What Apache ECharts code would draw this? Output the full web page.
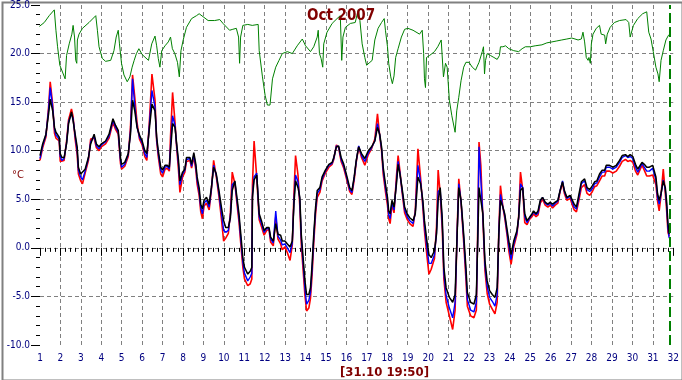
<!DOCTYPE html>
<html><head><meta charset="utf-8">
<script src="https://cdn.jsdelivr.net/npm/echarts@6/dist/echarts.min.js"></script>
<style>html,body{margin:0;padding:0;background:#fff}#c{width:682px;height:380px}</style>
</head><body><div id="c"></div>
<script>
// time in days (1 = start of 1 Oct) for outdoor sensors
const times = [1.00,1.13,1.29,1.42,1.50,1.62,1.71,1.78,1.94,1.99,2.07,2.18,2.30,2.40,2.54,2.62,2.72,2.82,2.88,2.99,3.08,3.21,3.37,3.48,3.65,3.76,3.89,4.00,4.21,4.38,4.57,4.70,4.83,4.94,4.99,5.15,5.32,5.43,5.53,5.64,5.75,5.87,6.00,6.13,6.23,6.36,6.48,6.63,6.71,6.79,6.91,7.00,7.12,7.23,7.33,7.39,7.49,7.61,7.69,7.78,7.85,7.98,8.09,8.17,8.34,8.42,8.53,8.63,8.69,8.79,8.87,8.95,9.03,9.15,9.28,9.39,9.50,9.63,9.76,9.88,9.99,10.09,10.22,10.32,10.41,10.54,10.64,10.74,10.83,10.93,11.01,11.17,11.29,11.37,11.40,11.48,11.61,11.73,11.84,11.97,12.10,12.21,12.29,12.42,12.54,12.65,12.78,12.86,12.99,13.11,13.24,13.35,13.43,13.51,13.63,13.72,13.79,13.88,13.97,14.05,14.16,14.24,14.32,14.40,14.49,14.57,14.70,14.81,14.97,15.14,15.30,15.38,15.51,15.62,15.74,15.87,16.03,16.16,16.27,16.38,16.48,16.60,16.74,16.90,17.07,17.23,17.39,17.52,17.63,17.72,17.80,17.91,18.01,18.07,18.14,18.23,18.33,18.45,18.53,18.62,18.72,18.85,18.98,19.10,19.26,19.37,19.50,19.63,19.74,19.82,19.94,20.04,20.15,20.31,20.41,20.49,20.59,20.69,20.77,20.88,21.04,21.20,21.32,21.42,21.50,21.61,21.74,21.85,21.92,22.08,22.24,22.36,22.42,22.49,22.58,22.68,22.78,22.89,23.01,23.14,23.27,23.38,23.46,23.54,23.66,23.75,23.87,23.95,24.06,24.19,24.35,24.43,24.52,24.63,24.73,24.84,24.95,25.08,25.16,25.28,25.38,25.49,25.60,25.73,25.86,25.98,26.09,26.22,26.35,26.46,26.58,26.67,26.79,26.95,27.06,27.15,27.26,27.39,27.50,27.66,27.78,27.91,28.04,28.15,28.26,28.39,28.52,28.64,28.72,28.88,29.04,29.21,29.37,29.50,29.66,29.77,29.89,30.02,30.15,30.26,30.34,30.47,30.58,30.70,30.83,30.99,31.07,31.15,31.23,31.31,31.40,31.51,31.61,31.67,31.74,31.80];
const black = [9.5,10.7,11.7,13.8,15.3,14.1,12.4,11.9,11.4,9.7,9.3,9.3,10.7,12.8,14.0,13.1,11.7,10.4,8.3,7.6,7.4,8.1,9.3,10.7,11.7,10.7,10.4,10.7,11.0,11.7,13.3,12.6,12.1,9.3,8.6,8.8,9.7,11.7,15.2,14.1,12.4,11.6,11.0,10.0,9.7,12.4,14.8,14.1,11.4,10.0,8.3,8.0,8.5,8.5,8.3,10.0,12.8,12.4,10.7,9.0,6.9,7.8,8.1,9.3,9.3,8.6,9.8,8.6,7.3,6.2,4.5,4.0,4.9,5.2,4.5,6.2,8.3,7.6,5.9,4.2,2.8,2.1,2.1,3.1,5.9,6.9,5.2,3.5,1.4,-1.0,-2.0,-2.7,-2.4,-2.0,5.2,7.0,7.5,3.5,2.8,1.8,2.1,2.1,1.1,0.7,2.5,1.4,1.3,0.7,0.7,0.4,0.1,0.7,4.5,6.9,6.2,5.2,1.4,-1.0,-3.4,-4.8,-4.8,-4.1,-1.7,1.4,4.2,5.9,6.2,7.3,8.0,8.6,8.8,9.3,10.4,10.5,9.3,8.6,7.3,6.2,5.9,7.3,9.0,10.4,9.7,9.2,10.0,10.4,11.0,12.4,11.7,10.4,8.3,6.6,5.2,3.8,3.5,4.9,4.2,6.6,8.6,7.6,6.2,4.2,3.5,3.1,2.8,3.5,7.3,6.6,4.9,2.8,0.7,-0.7,-1.0,-0.3,1.4,4.9,6.2,3.1,-2.0,-4.1,-5.1,-5.6,-4.8,1.4,6.2,4.9,1.4,-2.0,-4.6,-5.6,-5.8,-4.8,0.1,6.2,6.2,3.5,-1.3,-3.4,-4.4,-4.8,-5.1,-4.1,1.4,4.9,4.2,3.5,1.8,0.7,-0.7,0.7,1.8,3.1,5.9,6.2,3.5,2.8,3.1,3.5,3.8,3.5,3.8,4.9,5.2,4.7,4.5,4.7,4.5,4.7,4.9,5.9,6.8,5.9,5.2,5.4,4.9,4.5,4.2,5.6,6.8,7.1,6.2,6.0,6.4,6.8,6.9,7.6,8.0,8.0,8.5,8.5,8.3,8.5,9.0,9.5,9.6,9.4,9.6,9.4,8.6,8.1,8.3,8.8,8.6,8.3,8.3,8.5,8.6,7.3,5.6,4.9,5.6,6.9,6.2,4.9,2.5,1.4];
const blue = [9.2,10.5,11.6,14.2,16.5,14.5,12.2,11.6,11.2,9.4,9.0,9.2,10.8,13.0,13.8,13.3,11.5,10.0,8.0,7.3,7.0,7.9,9.2,10.9,11.5,10.5,10.2,10.6,10.9,11.5,13.1,12.4,11.9,9.0,8.3,8.6,9.6,12.0,17.4,14.6,12.5,11.4,10.8,9.7,9.3,12.8,16.2,14.5,11.2,9.7,8.0,7.7,8.3,8.4,8.1,10.5,13.6,12.6,10.5,8.6,6.5,7.6,8.0,9.1,9.2,8.4,9.6,8.3,7.0,5.8,4.1,3.5,4.6,4.9,4.2,6.1,8.5,7.5,5.6,3.6,1.8,1.6,1.8,3.3,6.5,6.8,4.9,3.1,0.9,-1.5,-2.6,-3.4,-3.0,-2.6,5.5,7.3,7.7,3.2,2.5,1.6,2.0,2.0,0.9,0.5,3.8,1.2,0.8,0.3,0.4,0.0,-0.5,0.5,4.8,7.5,6.8,4.8,1.0,-1.6,-4.2,-5.8,-5.4,-4.6,-2.2,1.0,3.9,5.6,6.0,7.1,7.9,8.5,8.7,9.2,10.5,10.4,9.1,8.4,7.1,6.0,5.7,7.2,8.9,10.5,9.5,8.9,9.8,10.3,11.0,12.8,11.6,10.2,8.0,6.2,4.8,3.4,3.0,4.7,3.9,6.9,8.9,7.7,6.0,3.9,3.2,2.8,2.5,3.6,8.5,6.8,4.6,2.3,0.0,-1.6,-1.6,-0.7,1.6,5.8,6.0,2.6,-2.6,-4.9,-6.2,-7.2,-5.6,1.5,6.6,4.8,1.0,-2.6,-5.3,-6.4,-6.6,-5.6,0.4,10.4,7.0,3.3,-1.8,-4.0,-5.1,-5.5,-6.0,-4.8,1.5,5.5,4.2,3.3,1.5,0.2,-1.2,0.4,1.6,3.1,6.6,6.2,3.2,2.6,3.0,3.4,3.7,3.4,3.6,4.8,5.2,4.6,4.4,4.6,4.3,4.6,4.8,5.9,6.9,5.8,5.1,5.3,4.7,4.2,4.0,5.3,6.6,6.9,6.0,5.8,6.1,6.6,6.7,7.3,7.8,7.8,8.3,8.3,8.1,8.3,8.8,9.3,9.5,9.3,9.4,9.2,8.3,7.8,8.0,8.7,8.3,7.9,7.9,8.2,8.4,7.0,5.2,4.5,5.5,7.0,6.0,4.5,2.0,1.0];
const red = [9.0,10.3,11.4,14.5,17.1,14.8,11.8,11.3,11.0,8.9,8.8,9.0,11.0,13.2,14.3,13.5,11.2,9.6,7.6,6.9,6.6,7.7,9.0,11.2,11.3,10.3,10.0,10.4,10.7,11.3,12.9,12.2,11.7,8.7,8.1,8.4,9.4,12.5,17.8,15.5,12.9,11.2,10.6,9.4,9.0,13.2,17.9,15.2,11.0,9.4,7.6,7.3,8.1,8.2,7.9,11.5,16.0,12.9,10.3,8.0,5.7,7.3,7.8,8.9,9.0,8.2,9.4,8.0,6.6,5.4,3.7,3.0,4.3,4.6,3.9,6.0,9.0,7.3,5.3,3.0,0.7,1.0,1.5,3.6,7.8,6.6,4.6,2.7,0.4,-2.0,-3.2,-3.9,-3.7,-3.2,6.5,11.0,7.2,2.9,2.2,1.3,1.8,1.9,0.6,0.2,3.2,0.9,0.4,-0.2,0.1,-0.5,-1.3,0.3,5.5,9.5,7.5,4.2,0.4,-2.3,-4.9,-6.5,-6.2,-5.2,-2.8,0.5,3.5,5.2,5.7,6.9,7.7,8.3,8.6,9.1,10.6,10.3,8.9,8.2,6.9,5.8,5.5,7.0,8.8,10.4,9.3,8.5,9.6,10.2,11.2,13.8,11.5,10.0,7.6,5.8,4.4,3.0,2.5,4.5,3.6,7.4,9.5,7.9,5.8,3.6,2.9,2.5,2.2,3.8,10.2,7.2,4.2,1.8,-0.8,-2.7,-2.2,-1.1,2.2,8.0,5.6,2.0,-3.2,-5.6,-7.0,-8.4,-6.4,1.8,7.1,4.7,0.6,-3.2,-6.0,-7.0,-7.2,-6.4,1.0,10.9,8.5,3.0,-2.3,-4.7,-5.8,-6.3,-6.8,-5.6,1.8,6.4,4.2,3.1,1.2,-0.3,-1.7,0.1,1.4,3.2,7.8,6.0,2.6,2.4,2.9,3.2,3.5,3.2,3.4,4.6,5.0,4.4,4.2,4.4,4.1,4.4,4.6,5.8,6.7,5.6,4.9,5.1,4.4,3.9,3.7,5.0,6.2,6.5,5.6,5.4,5.8,6.3,6.4,6.9,7.4,7.4,7.9,7.9,7.7,7.9,8.4,8.9,9.1,8.9,9.0,8.8,7.9,7.5,7.7,8.5,8.0,7.4,7.4,7.5,7.6,6.5,4.8,3.8,5.4,8.1,5.6,4.0,1.6,1.2];
// indoor sensor
const gTimes = [0.97,1.21,1.45,1.70,1.78,1.86,1.97,2.10,2.23,2.30,2.43,2.56,2.62,2.69,2.75,2.80,2.83,2.91,3.08,3.40,3.73,3.81,3.89,4.05,4.21,4.46,4.62,4.73,4.83,4.89,4.99,5.11,5.27,5.40,5.51,5.61,5.72,5.84,5.92,6.00,6.05,6.31,6.47,6.63,6.71,6.79,6.87,6.96,7.12,7.28,7.39,7.48,7.60,7.73,7.82,7.90,8.01,8.17,8.42,8.66,8.79,8.98,9.23,9.55,9.80,9.96,10.28,10.44,10.61,10.72,10.77,10.82,10.93,11.17,11.39,11.68,11.73,11.89,12.02,12.13,12.26,12.38,12.54,12.70,12.86,13.11,13.35,13.59,13.84,14.00,14.24,14.40,14.57,14.62,14.68,14.76,14.84,14.89,15.05,15.30,15.54,15.70,15.77,15.83,15.95,16.19,16.43,16.58,16.66,16.77,16.90,16.99,17.15,17.26,17.39,17.55,17.72,17.85,17.91,18.01,18.07,18.17,18.25,18.33,18.41,18.53,18.69,18.85,19.01,19.26,19.58,19.66,19.71,19.78,19.82,19.87,19.92,20.07,20.31,20.47,20.64,20.69,20.75,20.80,20.85,20.93,21.04,21.16,21.32,21.40,21.50,21.61,21.74,21.85,22.00,22.16,22.32,22.49,22.65,22.71,22.76,22.81,22.89,23.05,23.22,23.38,23.49,23.54,23.66,23.79,23.95,24.19,24.43,24.60,24.76,25.00,25.24,25.57,25.81,26.06,26.30,26.54,26.79,27.03,27.19,27.34,27.50,27.58,27.66,27.74,27.83,27.87,27.94,27.99,28.07,28.23,28.39,28.47,28.56,28.64,28.69,28.77,28.91,29.12,29.37,29.69,29.82,29.89,29.95,30.05,30.26,30.50,30.70,30.80,30.91,31.02,31.15,31.25,31.31,31.40,31.51,31.64,31.77,31.83];
const green = [22.8,23.2,23.9,24.5,22.4,20.7,18.8,18.1,17.4,19.8,21.0,22.0,22.9,21.7,19.3,19.0,21.4,22.0,22.6,23.2,23.9,22.4,20.7,19.5,19.2,19.3,20.3,21.7,22.4,21.0,19.0,17.8,17.1,17.6,18.6,19.3,20.0,20.5,20.3,19.9,20.0,19.3,21.0,21.8,20.8,19.5,18.6,20.3,20.8,21.2,21.7,20.5,20.0,19.1,17.6,20.3,21.4,22.7,23.6,23.9,24.1,23.8,23.4,23.4,23.5,23.1,22.4,22.5,22.6,21.7,19.0,21.7,22.9,23.0,22.9,23.0,20.3,17.6,15.7,14.7,14.7,17.4,18.6,19.3,20.0,20.2,20.0,20.8,21.5,20.8,20.2,20.7,21.7,22.4,20.0,19.5,18.6,21.0,22.2,23.1,23.6,23.9,19.3,21.7,22.7,23.1,23.2,24.5,23.4,21.0,19.6,18.8,19.1,19.3,21.4,22.6,23.2,23.6,22.4,20.7,19.0,17.6,16.9,17.7,19.6,20.5,21.7,22.5,22.6,22.4,22.0,22.0,22.4,20.0,17.4,16.5,19.6,19.8,20.2,20.7,21.4,21.5,17.6,17.4,19.0,18.6,15.2,13.6,11.9,14.1,15.5,17.2,18.6,19.1,19.1,18.6,18.3,19.1,20.2,20.7,17.9,19.3,20.0,19.8,19.6,19.4,19.8,20.7,20.7,20.8,20.5,20.3,20.2,20.5,20.7,20.7,20.8,20.9,21.1,21.2,21.3,21.4,21.5,21.6,21.5,21.4,21.5,22.2,21.2,19.6,19.3,19.6,19.0,21.0,22.0,22.6,22.9,22.0,22.2,21.9,21.0,22.0,22.7,23.2,23.4,23.5,23.2,21.7,21.9,22.9,23.6,24.1,24.3,22.2,21.5,20.2,18.6,17.9,17.1,19.3,20.3,21.4,21.9,21.9];
const nowMark = 31.83;
const titleText = 'Oct 2007';
const stampText = '[31.10 19:50]';
const unitText = '°C';

const FONT = '"Liberation Sans Narrow","DejaVu Sans Condensed","Liberation Sans",sans-serif';
const pairs = (t, v) => t.map((x, i) => [x, v[i]]);
const chart = echarts.init(document.getElementById('c'), null, {renderer: 'canvas'});
const mkLine = (name, t, v, color, w) => ({
  name, type: 'line', data: pairs(t, v), showSymbol: false, symbol: 'none',
  lineStyle: {color, width: w}, itemStyle: {color}, animation: false, z: 3
});
chart.setOption({
  animation: false,
  backgroundColor: '#fff',
  grid: {left: 40, right: 5, top: 5, bottom: 35},
  title: [
    {text: titleText, left: 'center', top: 4, textStyle: {color: '#800000', fontSize: 15, fontWeight: 'bold', fontFamily: FONT}},
    {text: stampText, left: 335, top: 361, textStyle: {color: '#800000', fontSize: 13, fontWeight: 'bold', fontFamily: FONT}},
    {text: unitText, left: 7, top: 165, textStyle: {color: '#800000', fontSize: 11, fontWeight: 'normal', fontFamily: FONT}}
  ],
  xAxis: {
    type: 'value', min: 1, max: 32, interval: 1,
    axisLine: {show: false},
    axisTick: {show: true, length: 8, lineStyle: {color: '#000'}},
    minorTick: {show: true, splitNumber: 4, length: 4, lineStyle: {color: '#000'}},
    axisLabel: {color: '#000080', fontSize: 10, fontFamily: FONT, margin: 8},
    splitLine: {show: true, showMinLine: false, showMaxLine: false, lineStyle: {color: '#808080', type: [4, 3], width: 1}}
  },
  yAxis: {
    type: 'value', min: -10, max: 25, interval: 5,
    axisLine: {show: false},
    axisTick: {show: true, length: 9, lineStyle: {color: '#000'}},
    minorTick: {show: true, splitNumber: 5, length: 4, lineStyle: {color: '#000'}},
    axisLabel: {color: '#000080', fontSize: 10, fontFamily: FONT, margin: 10, formatter: v => v.toFixed(1)},
    splitLine: {show: true, showMinLine: false, showMaxLine: false, lineStyle: {color: '#808080', type: [4, 3], width: 1}}
  },
  series: [
    Object.assign(mkLine('indoor', gTimes, green, '#008000', 1), {
      markLine: {symbol: 'none', silent: true, label: {show: false},
        lineStyle: {color: '#008000', type: [10, 4], width: 2},
        data: [{xAxis: nowMark}]}
    }),
    mkLine('red', times, red, '#ff0000', 1.6),
    mkLine('blue', times, blue, '#0000ff', 1.4),
    mkLine('black', times, black, '#000000', 1.5)
  ],
  graphic: [{type: 'rect', left: 0, top: 0, shape: {x: 1, y: 1, width: 680, height: 378}, style: {fill: 'none', stroke: '#808080', lineWidth: 2}, silent: true}]
});
</script></body></html>
